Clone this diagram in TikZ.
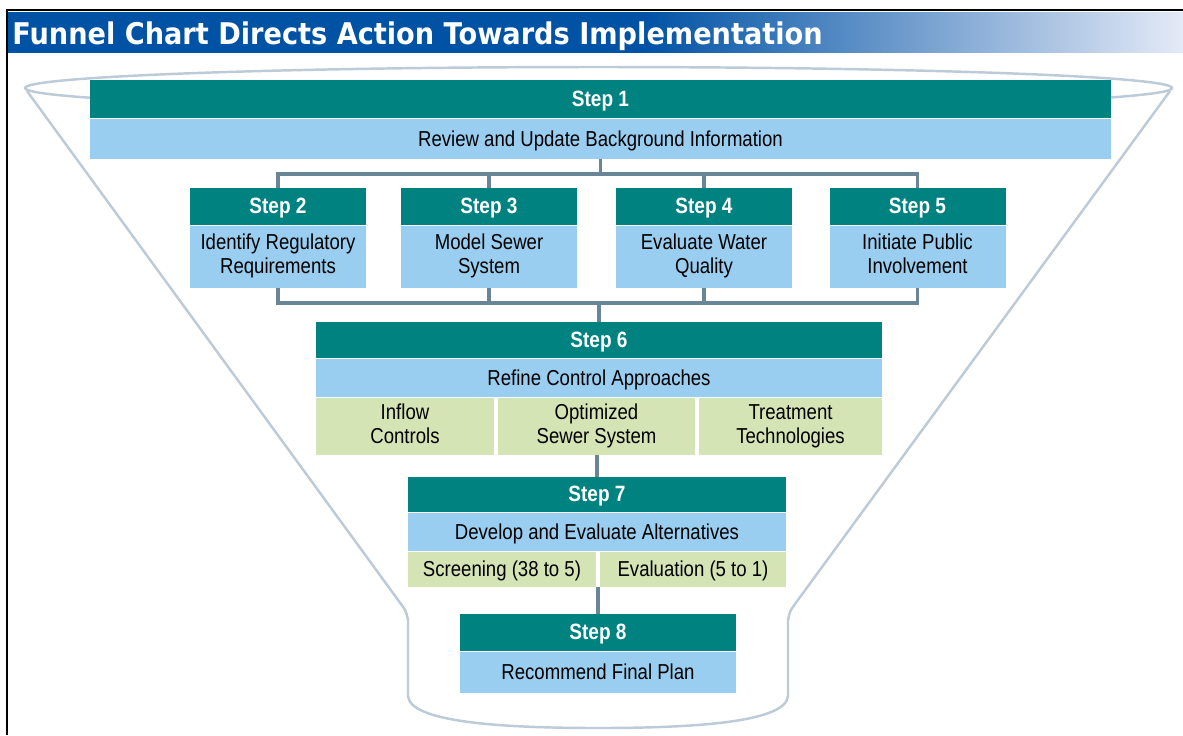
\documentclass[tikz,border=0pt]{standalone}
\usepackage{fontspec}
\setmainfont{Liberation Sans}[FakeStretch=0.86]
\newfontfamily\headfont{DejaVu Sans}[FakeStretch=0.91]
\usepackage{tikz}
\usetikzlibrary{positioning}

\definecolor{stepteal}{RGB}{0,130,128}
\definecolor{stepblue}{RGB}{153,206,240}
\definecolor{stepgreen}{RGB}{213,228,180}
\definecolor{linkgray}{RGB}{104,134,152}
\definecolor{funnelgray}{RGB}{188,203,215}
\definecolor{barblue}{RGB}{0,82,165}
\definecolor{barpale}{RGB}{228,234,247}

% the path spans 25bp..75bp of the shading
\pgfdeclarehorizontalshading{titlebar}{100bp}{color(0bp)=(barblue); color(25bp)=(barblue); color(52bp)=(barblue); color(75bp)=(barpale); color(100bp)=(barpale)}

% struts so that one- and two-line labels sit at the same height
\newcommand\steptopstrut{\rule{0pt}{11.5pt}}
\newcommand\stepbotstrut{\rule[-3pt]{0pt}{3pt}}

\tikzset{
	boxsize/.style 2 args={minimum width=#1*0.02cm, minimum height=#2*0.02cm},
	box/.style={rectangle, inner sep=0pt, align=center, font=\fontsize{12.3}{13.6}\selectfont,
		execute at begin node=\steptopstrut, execute at end node=\stepbotstrut},
	stephead/.style={box, fill=stepteal, text=white, font=\fontsize{12.6}{13.6}\selectfont\bfseries},
	stepbody/.style={box, fill=stepblue, text=black},
	stepsub/.style={box, fill=stepgreen, text=black},
	link/.style={draw=linkgray, line width=2.2pt},
	funnel/.style={draw=funnelgray, line width=1.4pt},
}

\begin{document}
\begin{tikzpicture}[x=0.02cm, y=-0.02cm]
		\useasboundingbox (0,0) rectangle (1183,735);
		
		%%%%% title bar %%%%%
		\shade[shading=titlebar] (7,12) rectangle (1183,52);
		\node[anchor=base west, inner sep=0pt, text=white, font=\headfont\bfseries\fontsize{17}{20}\selectfont] (title) at (12,44) {Funnel Chart Directs Action Towards Implementation};
		\draw[line width=1.2pt] (7,735) -- (7,10) -- (1183,10);
		
		%%%%% funnel %%%%%
		\draw[funnel] (598.5,88) ellipse (573.5 and 21);
		\draw[funnel] (27,91) -- (401,604) .. controls (406,611) .. (408,620) -- (408,696)
			.. controls (410,722) and (500,728) .. (598,728)
			.. controls (696,728) and (786,722) .. (788,696) -- (788,620)
			.. controls (790,611) .. (795,604) -- (1170,91);
		
		%%%%% step 1 %%%%%
		\node[stephead, boxsize={1021}{38}] (h1) at (600.5,99) {Step 1};
		\node[stepbody, boxsize={1021}{40}, below=0pt of h1] (b1) {Review and Update Background Information};
		
		%%%%% steps 2 to 5 %%%%%
		\foreach \x/\n/\txt in {278/2/{Identify Regulatory\\Requirements},
				489/3/{Model Sewer\\System},
				704/4/{Evaluate Water\\Quality},
				917.5/5/{Initiate Public\\Involvement}} {
			\node[stephead, boxsize={176}{37}] (h\n) at (\x,206.5) {Step \n};
			\node[stepbody, boxsize={176}{62}, below=0pt of h\n] (b\n) {\txt};
		}
		
		%%%%% step 6 %%%%%
		\node[stephead, boxsize={566}{36}] (h6) at (599,340) {Step 6};
		\node[stepbody, boxsize={566}{38}, below=0pt of h6] (b6) {Refine Control Approaches};
		\node[stepsub, boxsize={178}{57}] (c6a) at (405,426.5) {Inflow\\Controls};
		\node[stepsub, boxsize={197}{57}] (c6b) at (596.5,426.5) {Optimized\\Sewer System};
		\node[stepsub, boxsize={183}{57}] (c6c) at (790.5,426.5) {Treatment\\Technologies};
		
		%%%%% step 7 %%%%%
		\node[stephead, boxsize={378}{35}] (h7) at (597,494.5) {Step 7};
		\node[stepbody, boxsize={378}{38}, below=0pt of h7] (b7) {Develop and Evaluate Alternatives};
		\node[stepsub, boxsize={188}{35}] (c7a) at (502,569.5) {Screening (38 to 5)};
		\node[stepsub, boxsize={186}{35}] (c7b) at (693,569.5) {Evaluation (5 to 1)};
		
		%%%%% step 8 %%%%%
		\node[stephead, boxsize={276}{37}] (h8) at (598,632.5) {Step 8};
		\node[stepbody, boxsize={276}{41}, below=0pt of h8] (b8) {Recommend Final Plan};
		
		%%%%% connectors %%%%%
		\coordinate (bus1) at (600,174);
		\coordinate (bus2) at (600,303);
		\draw[link] (h2.north) -- (h2.north |- bus1) -- (h5.north |- bus1) -- (h5.north);
		\draw[link] (h3.north) -- (h3.north |- bus1);
		\draw[link] (h4.north) -- (h4.north |- bus1);
		\draw[link] (b1.south) -- (b1.south |- bus1);
		\draw[link] (b2.south) -- (b2.south |- bus2) -- (b5.south |- bus2) -- (b5.south);
		\draw[link] (b3.south) -- (b3.south |- bus2);
		\draw[link] (b4.south) -- (b4.south |- bus2);
		\draw[link] (h6.north) -- (h6.north |- bus2);
		\draw[link] (h7.north) -- (h7.north |- c6b.south);
		\draw[link] (h8.north) -- (h8.north |- c7a.south);
		
\end{tikzpicture}
\end{document}
